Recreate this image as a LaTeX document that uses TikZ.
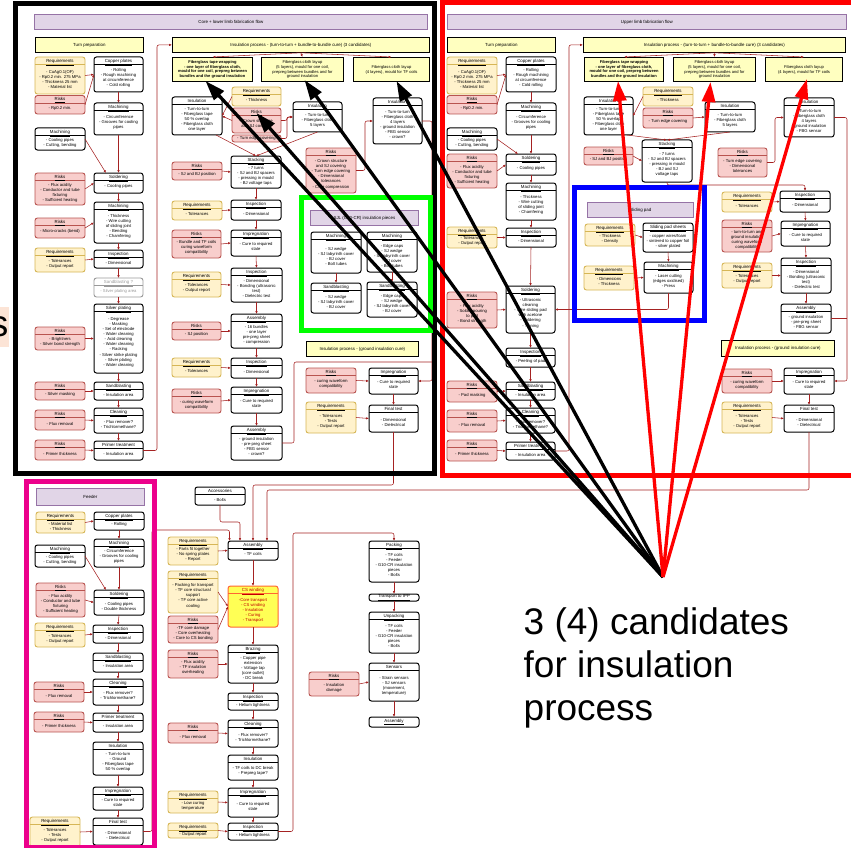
\documentclass[tikz,border=0pt]{standalone}
\usepackage{fontspec}
\setmainfont{Liberation Sans}
\usetikzlibrary{calc,arrows.meta}

\definecolor{reqfill}{HTML}{FFF2CC}
\definecolor{reqline}{HTML}{D6B656}
\definecolor{riskfill}{HTML}{F8CECC}
\definecolor{riskline}{HTML}{B85450}
\definecolor{hdrfill}{HTML}{FFFFC0}
\definecolor{purpfill}{HTML}{E1D5E7}
\definecolor{purpline}{HTML}{9673A6}
\definecolor{cline}{HTML}{A52222}
\definecolor{csfill}{HTML}{FFFF55}
\definecolor{csline}{HTML}{FF6633}
\definecolor{cstext}{HTML}{C00000}
\definecolor{peach}{HTML}{FCE4D6}
\definecolor{greyline}{HTML}{999999}

\newcommand\fttl{\fontsize{4.4}{5.1}\selectfont}
\newcommand\fbody{\fontsize{4.2}{5.1}\selectfont}

% box with underlined title, separator and body text
\newcommand\procbox[8]{%
  \node[#1, anchor=north west, minimum width={(#5-#3)*1pt}, minimum height={(#6-#4)*1pt}] (#2) at (#3,#4) {};
  \draw[#1, fill=none, rounded corners=0pt, line width=0.6pt] ([yshift=-7.5pt]#2.north west) -- ([yshift=-7.5pt]#2.north east);
  \node[#1, draw=none, fill=none, font=\fttl, anchor=base] (#2-t) at ([yshift=-5.4pt]#2.north) {\underline{#7}};
  \node[#1, draw=none, fill=none, font=\fbody, align=center] (#2-c) at ($([yshift=-7.5pt]#2.north)!0.5!(#2.south)$) {#8};
}
% box holding only an underlined title
\newcommand\titlebox[7]{%
  \node[#1, anchor=north west, minimum width={(#5-#3)*1pt}, minimum height={(#6-#4)*1pt}, font=\fttl] (#2) at (#3,#4) {\underline{#7}};
}
% box holding plain centred text
\newcommand\plainbox[7]{%
  \node[#1, anchor=north west, minimum width={(#5-#3)*1pt}, minimum height={(#6-#4)*1pt}, align=center] (#2) at (#3,#4) {#7};
}

\tikzset{
  bxbase/.style={rounded corners=2.5pt, line width=0.9pt, inner sep=0pt, outer sep=0pt},
  proc/.style={bxbase, draw=black, fill=white, line width=1pt},
  req/.style={bxbase, draw=reqline, fill=reqfill},
  risk/.style={bxbase, draw=riskline, fill=riskfill, font=\fbody},
  grayp/.style={bxbase, draw=greyline, fill=white, text=greyline},
  cs/.style={bxbase, draw=csline, fill=csfill, text=cstext, line width=1pt},
  hdr/.style={draw=black, fill=hdrfill, line width=0.8pt, inner sep=0pt, font=\fttl},
  ttlbar/.style={draw=purpline, fill=purpfill, line width=0.8pt, inner sep=0pt, font=\fttl},
  fg/.style={draw=black, fill=hdrfill, line width=1pt, inner sep=0pt, font=\fontsize{4.1}{4.9}\selectfont},
  fgb/.style={fg, font=\fontsize{4.0}{4.9}\selectfont\bfseries},
  ar/.style={draw=cline, line width=0.55pt, rounded corners=2pt, -{Latex[length=2.8pt,width=2.4pt]}},
  ln/.style={draw=cline, line width=0.55pt, rounded corners=2pt},
  fr/.style={line width=5pt},
  bigk/.style={line width=3.3pt, -{Triangle[length=20pt,width=13pt]}},
}

\begin{document}
\begin{tikzpicture}[x=1pt,y=-1pt]
\useasboundingbox (0,0) rectangle (851,848);

% ---------------- core + lower limb : turn preparation ----------------
\plainbox{ttlbar}{ltitle}{34}{14}{427}{29}{Core + lower limb fabrication flow}
\plainbox{hdr}{lturn}{35}{37}{143}{52}{Turn preparation}
\plainbox{hdr}{linshd}{172}{37}{429}{52}{Insulation process - (turn-to-turn + bundle-to-bundle cure) (3 candidates)}

\procbox{req}{lreq1}{35}{57}{85}{94}{Requirements}{- CuAg0.1(OF)\\- Rp0.2 min. 275 MPa\\- Thickness 25 mm\\- Material list}
\procbox{risk}{lrisk1}{35}{95.5}{85}{114}{Risks}{- Rp0.2 min.}
\procbox{proc}{lcp}{94}{57}{143}{92}{Copper plates}{- Rolling\\- Rough machining\\at circumference\\- Cold rolling}
\procbox{proc}{lmach1}{94}{103}{143}{135}{Machining}{- Circumference\\- Grooves for cooling\\pipes}
\procbox{proc}{lmachc}{35}{128}{85}{150}{Machining}{- Cooling pipes\\- Cutting, bending}
\procbox{risk}{lrisk2}{35}{173}{85}{205}{Risks}{- Flux acidity\\- Conductor and tube\\fixturing\\- Sufficient heating}
\procbox{proc}{lsold}{94}{173}{143}{193}{Soldering}{- Cooling pipes}
\procbox{proc}{lmach2}{94}{202}{143}{243}{Machining}{- Thickness\\- Wire cutting\\of sliding joint\\- Bending\\- Chamfering}
\procbox{risk}{lrisk3}{35}{218}{85}{238}{Risks}{- Micro-cracks (bend)}
\procbox{req}{lreq2}{35}{248}{85}{272}{Requirements}{- Tolerances\\- Output report}
\procbox{proc}{linsp}{94}{250}{143}{268}{Inspection}{- Dimensional}
\procbox{grayp}{lsandq}{94}{278}{143}{297}{Sandblasting ?}{- Silver plating area}
\procbox{proc}{lsilv}{94}{304}{143}{373}{Silver plating}{- Degrease\\- Masking\\- Set of electrode\\- Water cleaning\\- Acid cleaning\\- Water cleaning\\- Racking\\- Silver strike plating\\- Silver plating\\- Water cleaning}
\procbox{risk}{lrisk4}{35}{327}{85}{350}{Risks}{- Brightners\\- Silver bond strength}
\procbox{risk}{lrisk5}{35}{382}{85}{400}{Risks}{- Silver masking}
\procbox{proc}{lsand}{94}{382}{143}{400}{Sandblasting}{- Insulation area}
\procbox{risk}{lrisk6}{35}{410}{85}{430}{Risks}{- Flux removal}
\procbox{proc}{lclean}{94}{408}{143}{433}{Cleaning}{- Flux remover?\\- Trichlormethane?}
\procbox{risk}{lrisk7}{35}{440}{85}{460}{Risks}{- Primer thickness}
\procbox{proc}{lprim}{94}{441}{143}{460}{Primer treatment}{- Insulation area}

% ---------------- core + lower limb : insulation ----------------
\plainbox{fgb}{lfg1}{172}{57}{252}{81}{Fiberglass tape wrapping\\- one layer of fiberglass cloth,\\mould for one coil, prepreg between\\bundles and the ground insulation}
\plainbox{fg}{lfg2}{261}{57}{343}{81}{Fiberglass cloth layup\\(5 layers), mould for one coil,\\prepreg between bundles and for\\ground insulation}
\plainbox{fg}{lfg3}{353}{57}{429}{81}{Fiberglass cloth layup\\(4 layers), mould for TF coils}

\procbox{proc}{lins1}{172}{97}{222}{135}{Insulation}{- Turn-to-turn\\- Fiberglass tape\\50 \% overlap\\- Fiberglass cloth\\one layer}
\procbox{req}{lreqT}{232}{87}{281}{106}{Requirements}{- Thickness}
\procbox{risk}{lriskC}{232}{108}{281}{133}{Risks}{- Crown structure\\and SJ covering}
\plainbox{risk}{lriskT}{232}{135}{281}{142}{- Turn edge covering}
\procbox{proc}{lins2}{293}{102}{342}{132}{Insulation}{- Turn-to-turn\\- Fiberglass cloth\\5 layers}
\procbox{proc}{lins3}{373}{98}{422}{144}{Insulation}{- Turn-to-turn\\- Fiberglass cloth\\4 layers\\- ground insulation\\- FBG sensor\\- crown?}
\procbox{risk}{lriskM}{306}{148}{356}{193}{Risks}{- Crown structure\\and SJ covering\\- Turn edge covering\\- Dimensional\\tolerances\\- Core compression}
\procbox{proc}{lstack}{231}{156}{281}{188}{Stacking}{- 7 turns\\- SJ and BJ spacers\\- pressing in mould\\- BJ voltage taps}
\procbox{risk}{lriskSJ}{172}{162}{222}{180}{Risks}{- SJ and BJ position}
\procbox{req}{lreqTol}{172}{201}{222}{220}{Requirements}{- Tolerances}
\procbox{proc}{linsp2}{231}{200}{281}{220}{Inspection}{- Dimensional}
\procbox{risk}{lriskB}{172}{230}{221}{258}{Risks}{- Bundle and TF coils\\curing waveform\\compatibility}
\procbox{proc}{limp1}{231}{230}{281}{256}{Impregnation}{- Cure to required\\state}
\procbox{req}{lreqTO}{172}{272}{221}{297}{Requirements}{- Tolerances\\- Output report}
\procbox{proc}{linsp3}{231}{268}{282}{302}{Inspection}{- Dimensional\\- Bonding (ultrasonic\\test)\\- Dielectric test}
\procbox{risk}{lriskSJp}{172}{322}{221}{340}{Risks}{- SJ position}
\procbox{proc}{lasm1}{231}{314}{282}{348}{Assembly}{- 16 bundles\\- one layer\\pre-preg sheet\\- compression}
\procbox{req}{lreqTol2}{172}{358}{221}{377}{Requirements}{- Tolerances}
\procbox{proc}{linsp4}{231}{358}{282}{378}{Inspection}{- Dimensional}
\procbox{risk}{lriskCW}{172}{389}{221}{413}{Risks}{- curing waveform\\compatibility}
\procbox{proc}{limp2}{231}{387}{282}{413}{Impregnation}{- Cure to required\\state}
\procbox{proc}{lasm2}{231}{426}{282}{460}{Assembly}{- ground insulation\\- pre-preg sheet\\- FBG sensor\\- crown?}

\plainbox{hdr}{lgchd}{306}{341}{418}{356}{Insulation process - (ground insulation cure)}
\procbox{risk}{lgrisk}{306}{368}{356}{393}{Risks}{- curing waveform\\compatibility}
\procbox{proc}{lgimp}{369}{368}{418}{394}{Impregnation}{- Cure to required\\state}
\procbox{req}{lgreq}{306}{402}{356}{433}{Requirements}{- Tolerances\\- Tests\\- Output report}
\procbox{proc}{lgfin}{369}{405}{418}{432}{Final test}{- Dimensional\\- Dielectrical}

% G10-CR pieces
\plainbox{ttlbar}{gtitle}{310}{210}{418}{225}{SJL (G10-CR) insulation pieces}
\procbox{proc}{gmach1}{311}{232}{361}{273}{Machining}{- SJ wedge\\- SJ labyrinth cover\\- BJ cover\\- Bolt tubes}
\procbox{proc}{gmach2}{367}{232}{417}{272}{Machining}{- Edge caps\\- SJ wedge\\- SJ labyrinth cover\\- BJ cover\\- Bolt tubes}
\procbox{proc}{gsand1}{311}{283}{361}{313}{Sandblasting}{- SJ wedge\\- SJ labyrinth cover\\- BJ cover}
\procbox{proc}{gsand2}{367}{282}{417}{317}{Sandblasting}{- Edge caps\\- SJ wedge\\- SJ labyrinth cover\\- BJ cover}

% ---------------- upper limb ----------------
\plainbox{ttlbar}{utitle}{447}{14}{846}{29}{Upper limb fabrication flow}
\plainbox{hdr}{uturn}{447}{37}{555}{52}{Turn preparation}
\plainbox{hdr}{uinshd}{583}{37}{845}{52}{Insulation process - (turn-to-turn + bundle-to-bundle cure) (3 candidates)}

\procbox{req}{ureq1}{447}{57}{497}{94}{Requirements}{- CuAg0.1(OF)\\- Rp0.2 min. 275 MPa\\- Thickness 25 mm\\- Material list}
\procbox{risk}{urisk1}{447}{95.5}{497}{114}{Risks}{- Rp0.2 min.}
\procbox{proc}{ucp}{506}{57}{556}{92}{Copper plates}{- Rolling\\- Rough machining\\at circumference\\- Cold rolling}
\procbox{proc}{umach1}{506}{103}{556}{135}{Machining}{- Circumference\\- Grooves for cooling\\pipes}
\procbox{proc}{umachc}{447}{128}{497}{150}{Machining}{- Cooling pipes\\- Cutting, bending}
\procbox{risk}{urisk2}{447}{154}{497}{188}{Risks}{- Flux acidity\\- Conductor and tube\\fixturing\\- Sufficient heating}
\procbox{proc}{usold}{506}{154}{556}{175}{Soldering}{- Cooling pipes}
\procbox{proc}{umach2}{506}{183}{556}{220}{Machining}{- Thickness\\- Wire cutting\\of sliding joint\\- Chamfering}
\procbox{req}{ureq2}{447}{227}{497}{248}{Requirements}{- Tolerances\\- Output report}
\procbox{proc}{uinsp}{506}{228}{556}{247}{Inspection}{- Dimensional}
\procbox{risk}{urisk3}{447}{292}{497}{328}{Risks}{- Flux acidity\\- Solder pouring\\to pad\\- Bond strength}
\procbox{proc}{usold2}{506}{286}{555}{333}{Soldering}{- Ultrasonic\\cleaning\\- Wire sliding pad\\with acetone\\- Soldering\\- Tinning}
\procbox{proc}{uinsp2}{506}{348}{555}{367}{Inspection}{- Peeling of pad}
\procbox{risk}{urisk4}{447}{381}{497}{402}{Risks}{- Pad masking}
\procbox{proc}{usand}{506}{382}{555}{400}{Sandblasting}{- Insulation area}
\procbox{risk}{urisk5}{447}{410}{497}{432}{Risks}{- Flux removal}
\procbox{proc}{uclean}{506}{408}{555}{433}{Cleaning}{- Flux remover?\\- Trichlormethane?}
\procbox{risk}{urisk6}{447}{440}{497}{461}{Risks}{- Primer thickness}
\procbox{proc}{uprim}{506}{442}{555}{460}{Primer treatment}{- Insulation area}

\plainbox{fgb}{ufg1}{584}{57}{663}{81}{Fiberglass tape wrapping\\- one layer of fiberglass cloth,\\mould for one coil, prepreg between\\bundles and the ground insulation}
\plainbox{fg}{ufg2}{673}{57}{755}{81}{Fiberglass cloth layup\\(5 layers), mould for one coil,\\prepreg between bundles and for\\ground insulation}
\plainbox{fg}{ufg3}{765}{57}{842}{81}{Fiberglass cloth layup\\(4 layers), mould for TF coils}

\procbox{proc}{uins1}{584}{97}{633}{135}{Insulation}{- Turn-to-turn\\- Fiberglass tape\\50 \% overlap\\- Fiberglass cloth\\one layer}
\procbox{risk}{uriskSJ}{584}{147}{633}{165}{Risks}{- SJ and BJ position}
\procbox{req}{ureqT}{643}{87}{693}{106}{Requirements}{- Thickness}
\procbox{risk}{uriskT}{643}{108}{693}{128}{Risks}{- Turn edge covering}
\procbox{proc}{uins2}{705}{102}{755}{132}{Insulation}{- Turn-to-turn\\- Fiberglass cloth\\5 layers}
\procbox{proc}{uins3}{784}{98}{834}{137}{Insulation}{- Turn-to-turn\\- Fiberglass cloth\\4 layers\\- ground insulation\\- FBG sensor}
\procbox{proc}{ustack}{642}{140}{692}{182}{Stacking}{- 7 turns\\- SJ and BJ spacers\\- pressing in mould\\- BJ and SJ\\voltage taps}
\procbox{risk}{uriskM}{718}{148}{767}{177}{Risks}{- Turn edge covering\\- Dimensional\\tolerances}
\procbox{req}{ureqTol}{722}{192}{772}{212}{Requirements}{- Tolerances}
\procbox{proc}{uiinsp1}{780}{191}{830}{212}{Inspection}{- Dimensional}
\procbox{risk}{uriskCW}{722}{220}{772}{252}{Risks}{- turn-to-turn and\\ground insulation\\curing waveform\\compatibility}
\procbox{proc}{uimp}{781}{221}{830}{246}{Impregnation}{- Cure to required\\state}
\procbox{req}{ureqTO}{722}{263}{772}{288}{Requirements}{- Tolerances\\- Output report}
\procbox{proc}{uiinsp2}{781}{258}{831}{293}{Inspection}{- Dimensional\\- Bonding (ultrasonic\\test)\\- Dielectric test}
\procbox{proc}{uasm}{781}{304}{831}{333}{Assembly}{- ground insulation\\- pre-preg sheet\\- FBG sensor}

\plainbox{hdr}{ugchd}{721}{340}{834}{356}{Insulation process - (ground insulation cure)}
\procbox{risk}{ugrisk}{722}{369}{772}{393}{Risks}{- curing waveform\\compatibility}
\procbox{proc}{ugimp}{784}{368}{834}{394}{Impregnation}{- Cure to required\\state}
\procbox{req}{ugreq}{722}{402}{772}{433}{Requirements}{- Tolerances\\- Tests\\- Output report}
\procbox{proc}{ugfin}{784}{405}{834}{432}{Final test}{- Dimensional\\- Dielectrical}

% sliding pad
\plainbox{ttlbar}{stitle}{587}{202}{693}{217}{Sliding pad}
\procbox{req}{sreq1}{585}{224}{635}{246}{Requirements}{- Thickness\\- Density}
\procbox{proc}{ssheet}{643}{223}{693}{252}{Sliding pad sheets}{- copper wires/foam\\- sintered to copper foil\\- silver plated}
\procbox{req}{sreq2}{584}{266}{634}{290}{Requirements}{- Dimensions\\- Thickness}
\procbox{proc}{smach}{644}{262}{693}{293}{Machining}{- Laser cutting\\(edges oxidised)\\- Press}

% ---------------- feeder ----------------
\plainbox{ttlbar}{ftitle}{36}{488}{144}{505}{Feeder}
\procbox{req}{freq1}{36}{512}{85}{533}{Requirements}{- Material list\\- Thickness}
\procbox{proc}{fcp}{94}{512}{144}{530}{Copper plates}{- Rolling}
\procbox{proc}{fmach}{94}{539}{144}{567}{Machining}{- Circumference\\- Grooves for cooling\\pipes}
\procbox{proc}{fmachc}{35}{545}{85}{567}{Machining}{- Cooling pipes\\- Cutting, bending}
\procbox{risk}{frisk1}{36}{583}{85}{617}{Risks}{- Flux acidity\\- Conductor and tube\\fixturing\\- Sufficient heating}
\procbox{proc}{fsold}{94}{590}{144}{615}{Soldering}{- Cooling pipes\\- Double thickness}
\procbox{req}{freq2}{35}{623}{85}{647}{Requirements}{- Tolerances\\- Output report}
\procbox{proc}{finsp}{93}{625}{143}{643}{Inspection}{- Dimensional}
\procbox{proc}{fsand}{93}{653}{143}{672}{Sandblasting}{- Insulation area}
\procbox{risk}{frisk2}{34}{682}{84}{702}{Risks}{- Flux removal}
\procbox{proc}{fclean}{93}{679}{143}{705}{Cleaning}{- Flux remover?\\- Trichlormethane?}
\procbox{risk}{frisk3}{34}{712}{84}{732}{Risks}{- Primer thickness}
\procbox{proc}{fprim}{93}{713}{143}{732}{Primer treatment}{- Insulation area}
\procbox{proc}{fins}{93}{742}{143}{775}{Insulation}{- Turn-to-turn\\- Ground\\- Fiberglass tape\\50 \% overlap}
\procbox{proc}{fimp}{93}{787}{143}{810}{Impregnation}{- Cure to required\\state}
\procbox{req}{freq3}{30}{817}{80}{847}{Requirements}{- Tolerances\\- Tests\\- Output report}
\procbox{proc}{ffin}{93}{818}{143}{845}{Final test}{- Dimensional\\- Dielectrical}

% ---------------- coil assembly ----------------
\procbox{proc}{bacc}{195}{487}{245}{505}{Accessories}{- Bolts}
\procbox{proc}{basm}{228}{541}{278}{560}{Assembly}{- TF coils}
\procbox{req}{breq1}{168}{537}{218}{565}{Requirements}{- Parts fit together\\- No spring plates\\- Report}
\procbox{req}{breq2}{168}{571}{218}{613}{Requirements}{- Packing for transport\\- TF core structural\\support\\- TF core active\\cooling}
\procbox{risk}{brisk1}{168}{616}{218}{643}{Risks}{-TF core damage\\- Core overheating\\- Core to CS bonding}
\procbox{cs}{bcs}{228}{586}{278}{627}{CS winding}{-Core transport\\- CS winding\\- Insulation\\- Curing\\- Transport}
\procbox{proc}{bbraze}{228}{645}{278}{683}{Brazing}{- Copper pipe\\extension\\- Voltage tap\\(core outlet)\\- DC break}
\procbox{risk}{brisk2}{168}{650}{218}{678}{Risks}{- Flux acidity\\- TF insulation\\overheating}
\procbox{proc}{binsp1}{228}{693}{278}{710}{Inspection}{- Helium tightness}
\procbox{proc}{bclean}{228}{720}{278}{747}{Cleaning}{- Flux remover?\\- Trichlormethane?}
\procbox{risk}{brisk3}{168}{723}{218}{743}{Risks}{- Flux removal}
\procbox{proc}{bins}{228}{755}{278}{780}{Insulation}{- TF coils to DC break\\- Prepreg tape?}
\procbox{proc}{bimp}{228}{788}{278}{817}{Impregnation}{- Cure to required\\state}
\procbox{req}{breq3}{168}{791}{218}{813}{Requirements}{- Low curing\\temperature}
\procbox{proc}{binsp2}{228}{823}{278}{840}{Inspection}{- Helium tightness}
\procbox{req}{breq4}{168}{823}{218}{838}{Requirements}{- Output report}

\procbox{proc}{ppack}{369}{541}{419}{582}{Packing}{- TF coils\\- Feeder\\- G10-CR insulation\\pieces\\- Bolts}
\titlebox{proc}{ptrans}{369}{594}{419}{601}{Transport to IPP}
\procbox{proc}{punpack}{369}{612}{419}{653}{Unpacking}{- TF coils\\- Feeder\\- G10-CR insulation\\pieces\\- Bolts}
\procbox{proc}{psens}{369}{663}{419}{701}{Sensors}{- Strain sensors\\- SJ sensors\\(movement,\\temperature)}
\procbox{risk}{prisk}{309}{672}{359}{696}{Risks}{- Insulation\\damage}
\titlebox{proc}{pasm}{369}{717}{419}{727}{Assembly}

% ---------------- connectors ----------------
% lower limb turn preparation
\draw[ar] (lreq1.east) -- (lcp.west);
\draw[ar] (lrisk1.east) -- (lcp.west);
\draw[ar] (lcp.south) -- (lmach1.north);
\draw[ar] (lmach1.south) -- (lsold.north);
\draw[ar] (lmachc.east) -- ([xshift=12pt]lsold.north west);
\draw[ar] (lrisk2.east) -- (lsold.west);
\draw[ar] (lsold.south) -- (lmach2.north);
\draw[ar] (lrisk3.east) -- (lmach2.west);
\draw[ar] (lmach2.south) -- (linsp.north);
\draw[ar] (lreq2.east) -- (linsp.west);
\draw[ar] (linsp.south) -- (lsandq.north);
\draw[ar] (lsandq.south) -- (lsilv.north);
\draw[ar] (lrisk4.east) -- (lsilv.west);
\draw[ar] (lsilv.south) -- (lsand.north);
\draw[ar] (lrisk5.east) -- (lsand.west);
\draw[ar] (lsand.south) -- (lclean.north);
\draw[ar] (lrisk6.east) -- (lclean.west);
\draw[ar] (lclean.south) -- (lprim.north);
\draw[ar] (lrisk7.east) -- (lprim.west);
\draw[ar] (lprim.east) -- ++(14,0) |- (linshd.west);

% lower limb insulation
\foreach \t in {lfg1,lfg2,lfg3} \draw[ar] (linshd.south) -- (\t.north);
\draw[ar] (lreqT.west) -- (lins1.east);
\draw[ar] (lriskC.west) -- (lins1.east);
\draw[ar] (lriskC.east) -- ++(6,0) |- (lins2.west);
\draw[ar] (lriskT.east) -- ++(6,0) |- (lins2.west);
\draw[ar] ([xshift=-6pt]lins1.south east) -- (lstack.north);
\draw[ar] (lins2.south) -- (lstack.north);
\draw[ar] (lriskSJ.east) -- (lstack.west);
\draw[ar] (lstack.south) -- (linsp2.north);
\draw[ar] (lreqTol.east) -- (linsp2.west);
\draw[ar] (linsp2.south) -- (limp1.north);
\draw[ar] (lriskB.east) -- (limp1.west);
\draw[ar] (limp1.south) -- (linsp3.north);
\draw[ar] (lreqTO.east) -- (linsp3.west);
\draw[ar] (linsp3.south) -- (lasm1.north);
\draw[ar] (lriskSJp.east) -- (lasm1.west);
\draw[ar] (lasm1.south) -- (linsp4.north);
\draw[ar] (lreqTol2.east) -- (linsp4.west);
\draw[ar] (linsp4.south) -- (limp2.north);
\draw[ar] (lriskCW.east) -- (limp2.west);
\draw[ar] (limp2.south) -- (lasm2.north);
\draw[ar] (lriskM.east) -- ++(9,0) |- (lins3.west);
\draw[ar] (lins3.east) -- ++(10,0) |- (lgimp.east);
\coordinate (lbus) at (432,362);
\draw[ln] (lasm2.east) -- ++(12,0) |- (lbus);
\draw[ar] (lgrisk.east) -- (lgimp.west);
\draw[ar] (lgimp.south) -- (lgfin.north);
\draw[ar] (lgreq.east) -- (lgfin.west);
\draw[ar] (lgfin.south) -- ++(0,53) -| (basm.north);
\draw[ar] (gmach1.south) -- (gsand1.north);
\draw[ar] (gmach2.south) -- (gsand2.north);

% upper limb turn preparation
\draw[ar] (ureq1.east) -- (ucp.west);
\draw[ar] (urisk1.east) -- (ucp.west);
\draw[ar] (ucp.south) -- (umach1.north);
\draw[ar] (umach1.south) -- (usold.north);
\draw[ar] (umachc.east) -- ([xshift=12pt]usold.north west);
\draw[ar] (urisk2.east) -- (usold.west);
\draw[ar] (usold.south) -- (umach2.north);
\draw[ar] (umach2.south) -- (uinsp.north);
\draw[ar] (ureq2.east) -- (uinsp.west);
\draw[ar] (uinsp.south) -- (usold2.north);
\draw[ar] (urisk3.east) -- (usold2.west);
\draw[ar] (usold2.south) -- (uinsp2.north);
\draw[ar] (uinsp2.south) -- (usand.north);
\draw[ar] (urisk4.east) -- (usand.west);
\draw[ar] (usand.south) -- (uclean.north);
\draw[ar] (urisk5.east) -- (uclean.west);
\draw[ar] (uclean.south) -- (uprim.north);
\draw[ar] (urisk6.east) -- (uprim.west);
\draw[ar] (uprim.east) -- ++(14,0) |- (uinshd.west);
\draw[ar] (sreq1.east) -- (ssheet.west);
\draw[ar] (ssheet.south) -- (smach.north);
\draw[ar] (sreq2.east) -- (smach.west);
\draw[ar] (smach.south) |- (usold2.east);

% upper limb insulation
\foreach \t in {ufg1,ufg2,ufg3} \draw[ar] (uinshd.south) -- (\t.north);
\draw[ar] (ureqT.west) -- (uins1.east);
\draw[ar] (uriskT.east) -- (uins2.west);
\draw[ar] ([xshift=-6pt]uins1.south east) -- (ustack.north);
\draw[ar] (uins2.south) -- (ustack.north);
\draw[ar] (uriskSJ.east) -- (ustack.west);
\draw[ar] (ustack.south) -- ++(0,3) -| (uiinsp1.north);
\draw[ar] (uriskM.east) -- ++(8,0) |- (uins3.west);
\draw[ar] (ureqTol.east) -- (uiinsp1.west);
\draw[ar] (uiinsp1.south) -- (uimp.north);
\draw[ar] (uriskCW.east) -- (uimp.west);
\draw[ar] (uimp.south) -- (uiinsp2.north);
\draw[ar] (ureqTO.east) -- (uiinsp2.west);
\draw[ar] (uiinsp2.south) -- (uasm.north);
\draw[ar] (uins3.east) -- ++(13,0) |- (ugimp.east);
\draw[ln] (uasm.east) -- ++(16,0);
\draw[ar] (ugrisk.east) -- (ugimp.west);
\draw[ar] (ugimp.south) -- (ugfin.north);
\draw[ar] (ugreq.east) -- (ugfin.west);
\draw[ar] (ugfin.south) -- ++(0,58) -| ([xshift=39pt]basm.north west);

% feeder
\draw[ar] (freq1.east) -- (fcp.west);
\draw[ar] (fcp.south) -- (fmach.north);
\draw[ar] (fmach.south) -- (fsold.north);
\draw[ar] (fmachc.east) -- ([xshift=12pt]fsold.north west);
\draw[ar] (frisk1.east) -- (fsold.west);
\draw[ar] (fsold.south) -- (finsp.north);
\draw[ar] (freq2.east) -- (finsp.west);
\draw[ar] (finsp.south) -- (fsand.north);
\draw[ar] (fsand.south) -- (fclean.north);
\draw[ar] (frisk2.east) -- (fclean.west);
\draw[ar] (fclean.south) -- (fprim.north);
\draw[ar] (frisk3.east) -- (fprim.west);
\draw[ar] (fprim.south) -- (fins.north);
\draw[ar] (fins.south) -- (fimp.north);
\draw[ar] (fimp.south) -- (ffin.north);
\draw[ar] (freq3.east) -- (ffin.west);
\draw[ar] (ffin.east) -- ++(9,0) |- ([xshift=1.5pt,yshift=11pt]basm.north west) -- ([xshift=1.5pt]basm.north west);

% coil assembly
\draw[ar] (bacc.south) -- ++(0,17) -| ([xshift=12pt]basm.north west);
\draw[ar] (breq1.east) -- (basm.west);
\draw[ar] (basm.south) -- (bcs.north);
\draw[ar] (breq2.east) -- (bcs.west);
\draw[ar] (brisk1.east) -- (bcs.west);
\draw[ar] (bcs.south) -- (bbraze.north);
\draw[ar] (brisk2.east) -- (bbraze.west);
\draw[ar] (bbraze.south) -- (binsp1.north);
\draw[ar] (binsp1.south) -- (bclean.north);
\draw[ar] (brisk3.east) -- (bclean.west);
\draw[ar] (bclean.south) -- (bins.north);
\draw[ar] (bins.south) -- (bimp.north);
\draw[ar] (breq3.east) -- (bimp.west);
\draw[ar] (bimp.south) -- (binsp2.north);
\draw[ar] (breq4.east) -- (binsp2.west);
\draw[ar] (binsp2.east) -- ++(15,0) |- ([yshift=8pt]ppack.north) -- (ppack.north);
\draw[ar] (ppack.south) -- (ptrans.north);
\draw[ar] (ptrans.south) -- (punpack.north);
\draw[ar] (punpack.south) -- (psens.north);
\draw[ar] (psens.south) -- (pasm.north);
\draw[ar] (prisk.east) -- (psens.west);

% ---------------- group frames ----------------
\draw[fr, black] (15.5,4) rectangle (434.5,473.5);
\draw[fr, red] (442.5,2.5) rectangle (858,475.5);
\draw[fr, magenta] (26,481) rectangle (154.5,847.5);
\draw[fr, green] (301,197.5) rectangle (430,330);
\draw[fr, blue] (574.5,187.5) rectangle (704.5,320);

% ---------------- candidate pointers ----------------
\coordinate (cand) at (663,577);
\draw[bigk, black] (cand) -- ([xshift=-7pt,yshift=1pt]lfg1.south);
\draw[bigk, black] (cand) -- ([yshift=-5pt]lriskC.north);
\draw[bigk, black] (cand) -- ([xshift=2pt,yshift=2pt]lfg2.south);
\draw[bigk, black] (cand) -- ([xshift=5pt,yshift=1pt]lfg3.south);
\draw[bigk, red] (cand) -- ([xshift=-6pt,yshift=1pt]ufg1.south);
\draw[bigk, red] (cand) -- ([xshift=-4pt]ufg2.south);
\draw[bigk, red] (cand) -- ([xshift=3pt,yshift=3pt]ufg3.south);

\node[font=\fontsize{37}{43}\selectfont, align=left, anchor=north west, inner sep=0pt] (cands) at (523.5,607.5) {3 (4) candidates\\for insulation\\process};
\node[fill=peach, font=\fontsize{37}{43}\selectfont, inner xsep=1pt, inner ysep=0pt, minimum height=40pt, anchor=east] (sfrag) at (9.5,327) {s};
\end{tikzpicture}
\end{document}
